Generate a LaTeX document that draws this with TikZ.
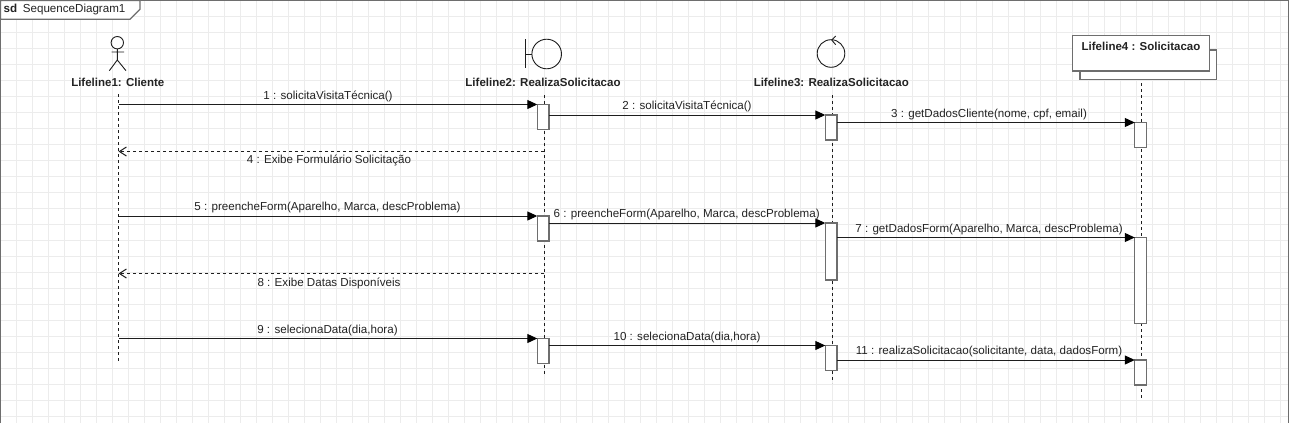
\documentclass[tikz,border=0pt]{standalone}
\usepackage{fontspec}
\setmainfont{Liberation Sans}
\usetikzlibrary{arrows.meta}
\definecolor{gridc}{RGB}{236,236,236}
\definecolor{linec}{RGB}{30,30,30}
\definecolor{framec}{RGB}{110,110,110}
\definecolor{txt}{RGB}{35,35,35}
\tikzset{
  lifeline/.style={draw=linec,line width=1pt,dash pattern=on 3pt off 3pt},
  actbox/.style={draw=framec,fill=white,line width=1.3pt,minimum width=11.7pt,inner sep=0pt,outer sep=0pt,anchor=north west},
  msg/.style={draw=linec,line width=1pt,-{Triangle[length=10pt,width=9pt,black]}},
  retmsg/.style={draw=linec,line width=1pt,dash pattern=on 3pt off 3pt,-{Straight Barb[length=7pt,width=9pt]}},
  lbl/.style={font=\fontsize{11.6}{13}\selectfont,text=txt,inner sep=0pt,anchor=base},
  namelbl/.style={font=\fontsize{11.5}{13}\selectfont\bfseries,text=txt,inner sep=0pt,anchor=base},
  symb/.style={draw=linec,line width=0.9pt},
}
\begin{document}
\begin{tikzpicture}[x=1pt,y=-1pt]
\useasboundingbox (0,0) rectangle (1289,423);
\fill[white] (0,0) rectangle (1289,423);
\foreach \i in {1,...,80} \draw[gridc,line width=0.8pt] (16*\i+0.5,0) -- (16*\i+0.5,423);
\foreach \i in {1,...,26} \draw[gridc,line width=0.8pt] (0,16*\i+0.5) -- (1289,16*\i+0.5);
% frame
\draw[framec,line width=1.3pt] (0.5,423) -- (0.5,0.5) -- (1288.4,0.5) -- (1288.4,423);
\draw[framec,line width=1.2pt,fill=white] (0.5,0.5) -- (140,0.5) -- (140,9.3) -- (130,19.3) -- (0.5,19.3) -- cycle;
\node[lbl,font=\fontsize{11.6}{13}\selectfont\bfseries] (sdk) at (10.5,12.7) {sd};
\node[lbl,anchor=base west] (sdname) at (22.7,12.7) {SequenceDiagram1};
% lifelines
\coordinate (l1t) at (118.5,94); \coordinate (l1b) at (118.5,361.5);
\coordinate (l2t) at (544,95); \coordinate (l2b) at (544,376);
\coordinate (l3t) at (832,95);   \coordinate (l3b) at (832,383);
\coordinate (l4t) at (1141.5,71); \coordinate (l4b) at (1141.5,397.5);
\draw[lifeline] (l1t) -- (l1b);
\draw[lifeline] (l2t) -- (l2b);
\draw[lifeline] (l3t) -- (l3b);
\draw[lifeline] (l4t) -- (l4b);
% actor
\draw[symb] (117.3,42.7) circle (6.2pt);
\draw[symb] (117.3,49) -- (117.3,60) (111.5,52) -- (124,52) (117.3,60) -- (109.3,70.7) (117.3,60) -- (126,70.7);
\node[namelbl] (n1) at (117.8,86.7) {Lifeline1: Cliente};
% boundary
\draw[symb] (525,39.3) -- (525,68) (525,54) -- (532,54);
\draw[symb] (546.7,54) circle (14.8pt);
\node[namelbl] (n2) at (543,86.7) {Lifeline2: RealizaSolicitacao};
% control
\draw[symb] (831,53.5) circle (13.8pt);
\draw[symb] (835.7,36) -- (831.7,40) -- (835.7,44.7);
\node[namelbl] (n3) at (831.3,86.7) {Lifeline3: RealizaSolicitacao};
% object
\draw[framec,line width=1.3pt,fill=white] (1080,50) rectangle (1216.7,79.3);
\node[draw=framec,line width=1.3pt,fill=white,minimum width=137pt,minimum height=35.3pt,inner sep=0pt,outer sep=0pt,anchor=north west] (n4) at (1072.7,35.7) {};
\node[namelbl] (n4t) at (1141,50.7) {Lifeline4 : Solicitacao};
% activations
\node[actbox,minimum height=25pt] (a21) at (537.3,104.5) {};
\node[actbox,minimum height=25pt] (a31) at (825.3,115) {};
\node[actbox,minimum height=25pt] (a41) at (1134.8,122.5) {};
\node[actbox,minimum height=25pt] (a22) at (537.3,216) {};
\node[actbox,minimum height=57pt] (a32) at (825.3,223) {};
\node[actbox,minimum height=86.3pt] (a42) at (1134.8,237.5) {};
\node[actbox,minimum height=25pt] (a23) at (537.3,338.5) {};
\node[actbox,minimum height=25pt] (a33) at (825.3,345.5) {};
\node[actbox,minimum height=25pt] (a43) at (1134.8,360) {};
% messages
\draw[msg] (l1t |- a21.north west) -- (a21.north west);
\draw[msg] (a21.east |- a31.north west) -- (a31.north west);
\draw[msg] (a31.east |- a41.north west) -- (a41.north west);
\coordinate (r4a) at (544,151.5); \coordinate (r4b) at (118.5,151.5);
\draw[retmsg] (r4a) -- (r4b);
\draw[msg] (l1t |- a22.north west) -- (a22.north west);
\draw[msg] (a22.east |- a32.north west) -- (a32.north west);
\draw[msg] (a32.east |- a42.north west) -- (a42.north west);
\coordinate (r8a) at (544,273.5); \coordinate (r8b) at (118.5,273.5);
\draw[retmsg] (r8a) -- (r8b);
\draw[msg] (l1t |- a23.north west) -- (a23.north west);
\draw[msg] (a23.east |- a33.north west) -- (a33.north west);
\draw[msg] (a33.east |- a43.north west) -- (a43.north west);
% labels
\node[lbl] (m1) at (328,99) {1 : solicitaVisitaTécnica()};
\node[lbl] (m2) at (687,109.3) {2 : solicitaVisitaTécnica()};
\node[lbl] (m3) at (989,117) {3 : getDadosCliente(nome, cpf, email)};
\node[lbl] (m4) at (329,163) {4 : Exibe Formulário Solicitação};
\node[lbl] (m5) at (327.5,210) {5 : preencheForm(Aparelho, Marca, descProblema)};
\node[lbl] (m6) at (686.7,217.3) {6 : preencheForm(Aparelho, Marca, descProblema)};
\node[lbl] (m7) at (989,232) {7 : getDadosForm(Aparelho, Marca, descProblema)};
\node[lbl] (m8) at (329,286.5) {8 : Exibe Datas Disponíveis};
\node[lbl] (m9) at (327.5,333) {9 : selecionaData(dia,hora)};
\node[lbl] (m10) at (687,340) {10 : selecionaData(dia,hora)};
\node[lbl] (m11) at (989,354) {11 : realizaSolicitacao(solicitante, data, dadosForm)};
\end{tikzpicture}
\end{document}
